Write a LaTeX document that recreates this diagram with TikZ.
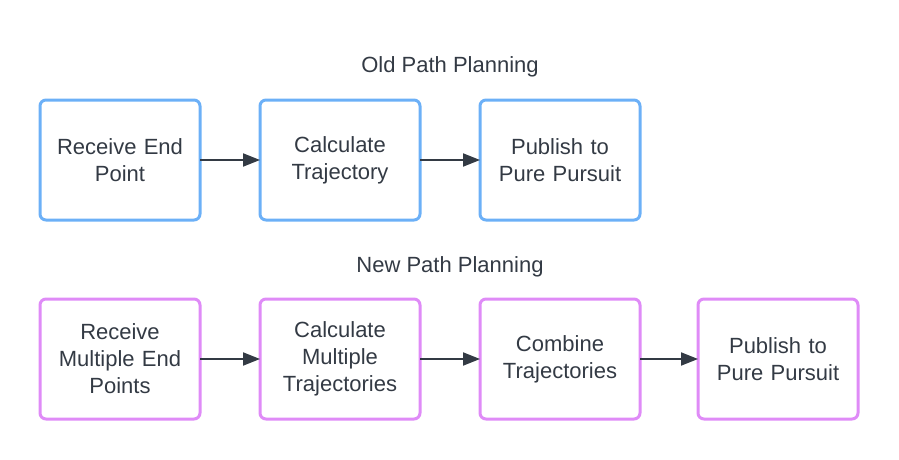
\documentclass[tikz,border=0pt]{standalone}
\usepackage{fontspec}
\setmainfont{Liberation Sans}
\usepackage{xcolor}
\usetikzlibrary{positioning,arrows.meta}
\definecolor{tblue}{HTML}{6CB0F7}
\definecolor{tpink}{HTML}{DF8BF7}
\definecolor{tink}{HTML}{333A44}

\begin{document}
\begin{tikzpicture}[x=1pt, y=-1pt, font=\fontsize{22}{27}\selectfont, text=tink,
  node distance=60pt,
  ob/.style={draw=tblue, line width=3pt, rounded corners=6pt, minimum width=160pt, minimum height=120pt,
    text width=154pt, align=center, inner sep=0pt, outer sep=0pt},
  nb/.style={ob, draw=tpink},
  arr/.style={-{Triangle[length=17pt, width=13pt]}, line width=2pt, draw=tink},
  ttl/.style={font=\fontsize{22}{27}\selectfont}]
\useasboundingbox (0,0) rectangle (899,460);

% --- old pipeline ---
\node[ttl] (oldttl) at (450,67) {Old Path Planning};
\node[ob] (o1) at (120,160) {Receive End\\Point};
\node[ob, right=of o1] (o2) {Calculate\\Trajectory};
\node[ob, right=of o2] (o3) {Publish to\\Pure Pursuit};

% --- new pipeline ---
\node[ttl] (newttl) at (450,267) {New Path Planning};
\node[nb] (n1) at (120,359) {Receive\\Multiple End\\Points};
\node[nb, right=of n1] (n2) {Calculate\\Multiple\\Trajectories};
\node[nb, right=of n2] (n3) {Combine\\Trajectories};
\node[nb, right=58pt of n3] (n4) {Publish to\\Pure Pursuit};

\draw[arr] (o1) -- (o2);
\draw[arr] (o2) -- (o3);
\draw[arr] (n1) -- (n2);
\draw[arr] (n2) -- (n3);
\draw[arr] (n3) -- (n4);
\end{tikzpicture}
\end{document}
